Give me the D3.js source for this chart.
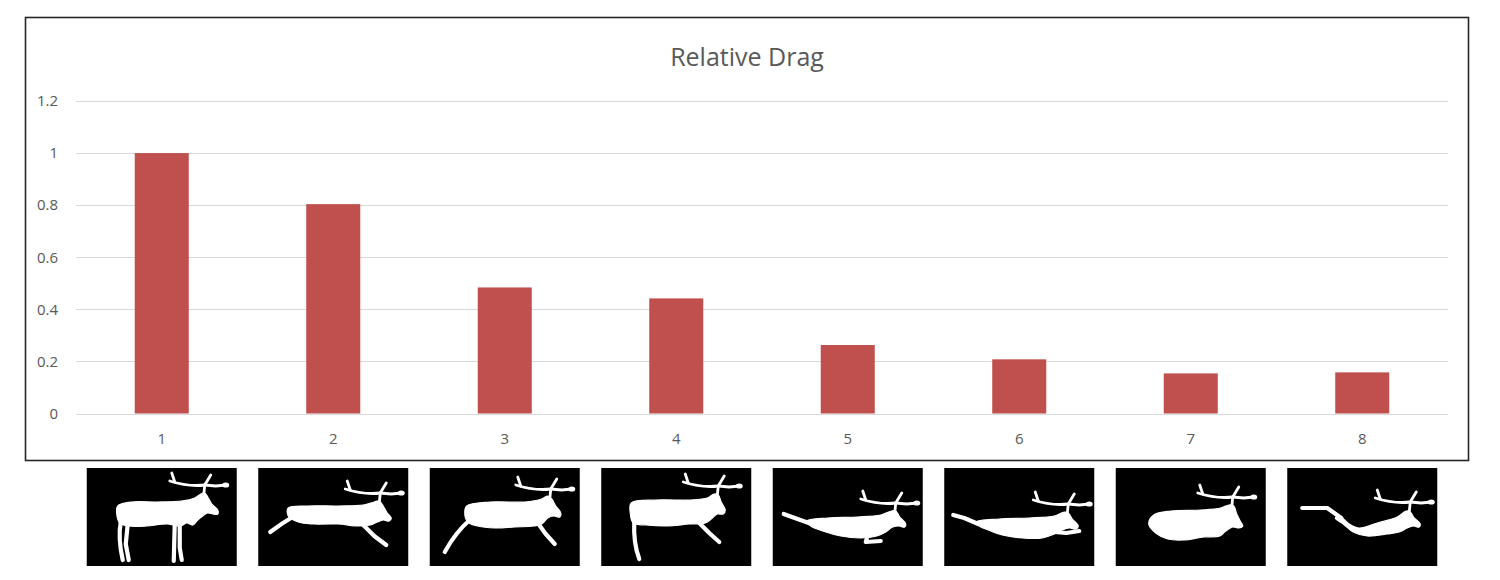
<!DOCTYPE html>
<html>
<head>
<meta charset="utf-8">
<script src="https://cdn.jsdelivr.net/npm/d3@7"></script>
<style>
  html, body { margin: 0; padding: 0; background: #fff; }
  svg { display: block; }
</style>
</head>
<body>
<svg id="chart" width="1500" height="580"></svg>
<script>
// ---- data ----
const categories = ["1", "2", "3", "4", "5", "6", "7", "8"];
const relativeDrag = [1.0, 0.804, 0.484, 0.442, 0.263, 0.208, 0.154, 0.158];
const yTicks = [0, 0.2, 0.4, 0.6, 0.8, 1, 1.2];
const yTickLabels = ["0", "0.2", "0.4", "0.6", "0.8", "1", "1.2"];
const title = "Relative Drag";
const poses = ["stand", "run", "leap", "stride", "tuck", "glide", "round", "stretch"];

// ---- silhouette templates (local 150x98 picture coordinates) ----
const poseShapes = {
  stand: { body: [[31,38],[45,34],[70,34],[95,33],[108,30],[114,26],[118,25],[121,29],[125,36],[131,42],[131,46],[126,46],[121,45],[116,48],[111,52],[106,57],[100,55],[94,58],[80,56],[60,58],[42,58],[33,55],[30,46]],
           legs: ["M34,54 Q31,70 36,92", "M41,56 L39,76 L42,92", "M88,55 L87,93", "M93,55 L93,80 L95,92"], antler: [117, 27] },
  run:   { body: [[30,40],[50,38],[80,38],[105,37],[116,34],[121,33],[125,38],[129,45],[133,50],[131,53],[125,52],[119,54],[112,57],[100,58],[80,56],[55,56],[40,54],[30,48]],
           legs: ["M36,48 Q24,55 12,64", "M104,56 L116,68 L128,77"], antler: [121, 35] },
  leap:  { body: [[37,38],[60,34],[95,34],[112,31],[118,28],[122,31],[126,38],[131,45],[130,49],[124,48],[118,50],[112,56],[104,58],[85,59],[65,60],[48,58],[38,54],[35,45]],
           legs: ["M40,52 Q26,64 15,84", "M108,55 L116,66 L125,76"], antler: [120, 31] },
  stride:{ body: [[30,35],[55,32],[90,32],[106,30],[113,26],[117,27],[120,34],[124,42],[122,46],[116,46],[110,51],[104,55],[88,56],[65,58],[45,57],[32,55],[29,45]],
           legs: ["M33,54 Q32,75 38,91", "M98,55 L108,65 L118,74"], antler: [116, 28] },
  tuck:  { body: [[34,53],[55,50],[85,49],[108,47],[119,43],[123,43],[127,49],[133,56],[132,59],[126,58],[120,59],[113,64],[104,68],[88,70],[68,68],[50,63],[38,58]],
           legs: ["M36,55 L22,50 L11,46", "M95,67 L93,74 L108,73"], antler: [122, 45] },
  glide: { body: [[32,54],[55,51],[85,50],[110,48],[120,44],[124,45],[128,51],[134,58],[132,61],[125,60],[118,62],[110,66],[98,70],[78,70],[58,67],[44,62],[35,58]],
           legs: ["M34,56 L20,50 L9,47", "M110,64 L122,65 L135,63"], antler: [123, 46] },
  round: { body: [[33,56],[38,47],[55,43],[85,42],[105,40],[113,37],[118,38],[121,46],[125,54],[127,58],[123,60],[117,59],[110,63],[104,68],[88,69],[68,72],[52,71],[40,65]],
           legs: [], antler: [116, 39] },
  stretch:{ body: [[52,48],[62,56],[72,60],[90,55],[110,49],[119,43],[123,44],[127,50],[133,56],[132,59],[126,58],[120,60],[112,64],[100,66],[80,68],[66,64],[56,56],[48,50]],
           legs: ["M15,40 L40,40 L54,50"], antler: [122, 44] }
};
function antlerPaths(bx, by) {
  return [
    `M${bx},${by} L${bx + 1},${by - 10} L${bx + 7},${by - 20}`,
    `M${bx + 1},${by - 10} Q${bx - 15},${by - 8} ${bx - 34},${by - 14}`,
    `M${bx - 29},${by - 13} L${bx - 32},${by - 22}`,
    `M${bx + 1},${by - 10} L${bx + 12},${by - 9} L${bx + 22},${by - 10}`
  ];
}

// ---- chart ----
const svg = d3.select("#chart");
const textColor = "#595959";
const font = "'Open Sans', 'Noto Sans', sans-serif";

svg.append("rect")
  .attr("x", 25.5).attr("y", 17.5).attr("width", 1443).attr("height", 443)
  .attr("fill", "#fff").attr("stroke", "#262626").attr("stroke-width", 1.6);

svg.append("text")
  .attr("x", 747).attr("y", 66)
  .attr("text-anchor", "middle")
  .attr("font-family", font).attr("font-size", 25)
  .attr("fill", textColor)
  .text(title);

const x = d3.scaleBand().domain(categories).range([76, 1448])
  .paddingInner(0.685).paddingOuter(0.3425);
const y = d3.scaleLinear().domain([0, 1.2]).range([413.5, 101]);

// gridlines
svg.append("g").selectAll("line").data(yTicks).join("line")
  .attr("x1", 76).attr("x2", 1448)
  .attr("y1", d => Math.round(y(d)) + 0.5).attr("y2", d => Math.round(y(d)) + 0.5)
  .attr("stroke", "#d9d9d9").attr("stroke-width", 1.2);

// y axis labels
const yAxis = d3.axisLeft(y).tickValues(yTicks)
  .tickFormat((d, i) => yTickLabels[i]).tickSize(0).tickPadding(0);
const yG = svg.append("g").attr("transform", "translate(58,0)").call(yAxis);
yG.select(".domain").remove();
yG.selectAll("text").attr("font-family", font).attr("font-size", 15).attr("fill", textColor);

// bars
svg.append("g").selectAll("rect").data(relativeDrag).join("rect")
  .attr("x", (d, i) => x(categories[i]))
  .attr("width", x.bandwidth())
  .attr("y", d => y(d))
  .attr("height", d => y(0) - y(d))
  .attr("fill", "#c0504d");

// x axis
const xAxis = d3.axisBottom(x).tickSize(0).tickPadding(0);
const xG = svg.append("g").attr("transform", "translate(0,433)").call(xAxis);
xG.select(".domain").remove();
xG.selectAll("text").attr("font-family", font).attr("font-size", 15).attr("fill", textColor);

// pictures under categories
const picW = 150, picH = 98;
const bodyLine = d3.line().curve(d3.curveCatmullRomClosed.alpha(0.5));
const pics = svg.append("g").selectAll("g").data(poses).join("g")
  .attr("transform", (d, i) => `translate(${x(categories[i]) + x.bandwidth() / 2 - picW / 2},468)`);
pics.append("rect").attr("width", picW).attr("height", picH).attr("fill", "#000");
pics.each(function (p) {
  const g = d3.select(this);
  const s = poseShapes[p];
  g.append("path").attr("d", bodyLine(s.body)).attr("fill", "#fff")
    .attr("stroke", "#fff").attr("stroke-width", 1.2).attr("stroke-linejoin", "round");
  s.legs.forEach(l => g.append("path").attr("d", l).attr("fill", "none")
    .attr("stroke", "#fff").attr("stroke-width", 4.2).attr("stroke-linecap", "round").attr("stroke-linejoin", "round"));
  const [bx, by] = s.antler;
  antlerPaths(bx, by).forEach(a => g.append("path").attr("d", a).attr("fill", "none")
    .attr("stroke", "#fff").attr("stroke-width", 2.8).attr("stroke-linecap", "round").attr("stroke-linejoin", "round"));
  g.append("ellipse").attr("cx", bx + 22).attr("cy", by - 10).attr("rx", 3.5).attr("ry", 2.6).attr("fill", "#fff");
});
</script>
</body>
</html>
